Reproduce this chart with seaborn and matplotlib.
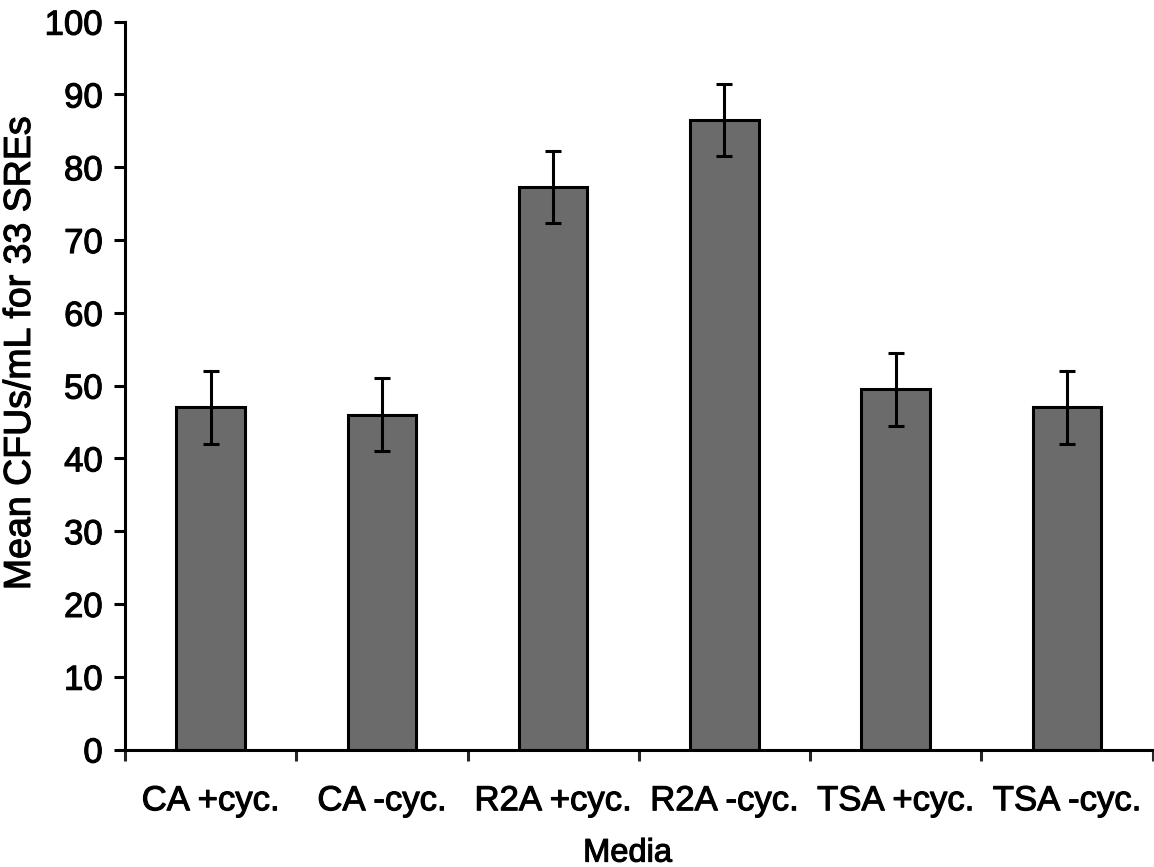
import matplotlib
matplotlib.use("Agg")
import matplotlib.pyplot as plt
import matplotlib.patheffects as pe
import seaborn as sns
import numpy as np
import pandas as pd

categories = ["CA +cyc.", "CA -cyc.", "R2A +cyc.", "R2A -cyc.", "TSA +cyc.", "TSA -cyc."]
means = [47.0, 46.0, 77.3, 86.5, 49.5, 47.0]
errors = [5.0, 5.0, 5.0, 5.0, 5.0, 5.0]
y_ticks = [0, 10, 20, 30, 40, 50, 60, 70, 80, 90, 100]

sns.set_theme(style="white")
plt.rcParams['font.family'] = ['Liberation Sans', 'DejaVu Sans']

fig = plt.figure(figsize=(11.54, 8.67), dpi=100)
ax = fig.add_axes([0.1083, 0.1355, 0.8905, 0.8395])

df = pd.DataFrame({"Media": categories, "Mean": means})
sns.barplot(data=df, x="Media", y="Mean", color="#6b6b6b", width=0.4,
            edgecolor="black", linewidth=2.2, saturation=1, ax=ax, errorbar=None)
ax.errorbar(np.arange(len(categories)), means, yerr=errors, fmt="none",
            ecolor="black", elinewidth=2.2, capsize=5.5, capthick=2.2)

ax.set_xlim(-0.5, len(categories) - 0.5)
ax.set_ylim(0, 100)
ax.set_yticks(y_ticks)
ax.set_xticks(np.arange(len(categories)))
ax.set_xticklabels(categories)
ax.set_xticks(np.arange(len(categories) + 1) - 0.5, minor=True)

for s in ["top", "right"]:
    ax.spines[s].set_visible(False)
for s in ["left", "bottom"]:
    ax.spines[s].set_linewidth(2.2)
    ax.spines[s].set_color("black")

ax.tick_params(axis="y", which="major", direction="out", length=8, width=2.2,
               left=True, labelsize=25, pad=8, colors="black")
ax.tick_params(axis="x", which="major", length=0, labelsize=25, pad=25, colors="black")
ax.tick_params(axis="x", which="minor", direction="out", length=8, width=2.2, bottom=True)

ax.set_xlabel("Media", fontsize=23.5, color="black")
ax.set_ylabel("Mean CFUs/mL for 33 SREs", fontsize=27, color="black")
ax.xaxis.set_label_coords(0.489, -0.121)
ax.yaxis.set_label_coords(-0.0847, 0.5446)

thick = [pe.withStroke(linewidth=0.8, foreground="black")]
for t in ax.get_xticklabels() + ax.get_yticklabels() + [ax.xaxis.label, ax.yaxis.label]:
    t.set_path_effects(thick)

fig.savefig("out.png", dpi=100)
